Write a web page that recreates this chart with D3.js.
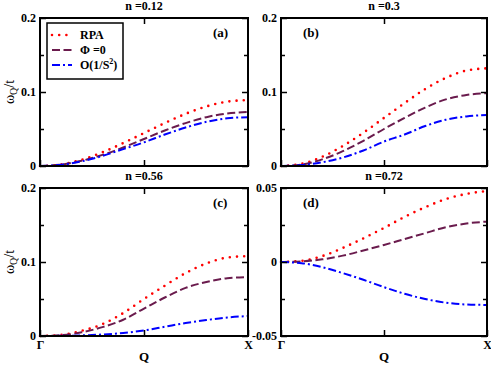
<!DOCTYPE html>
<html>
<head>
<meta charset="utf-8">
<script src="https://cdn.jsdelivr.net/npm/d3@7"></script>
<style>
  body { margin: 0; background: #fff; }
  svg { display: block; font-family: "Liberation Serif", "DejaVu Serif", serif; }
  .tick text { font-weight: bold; font-size: 12px; font-family: "Liberation Serif", "DejaVu Serif", serif; }
</style>
</head>
<body>
<svg id="chart" width="491" height="365"></svg>
<script>
// Q goes from Gamma (0) to X (1)
const qPoints = [0, 0.1, 0.2, 0.3, 0.4, 0.5, 0.6, 0.7, 0.8, 0.9, 1.0];

const panelTitles = ["n =0.12", "n =0.3", "n =0.56", "n =0.72"];
const panelTags = ["(a)", "(b)", "(c)", "(d)"];
const seriesNames = ["RPA", "\u03A6 =0", "O(1/S2)"];

// (a) n = 0.12
const rpaA = [0, 0.002, 0.0085, 0.0185, 0.031, 0.0445, 0.058, 0.0705, 0.0805, 0.087, 0.089];
const phiA = [0, 0.0018, 0.007, 0.015, 0.025, 0.0365, 0.048, 0.058, 0.066, 0.071, 0.073];
const ordA = [0, 0.0016, 0.0063, 0.0136, 0.0228, 0.032, 0.0425, 0.052, 0.0597, 0.0644, 0.066];
// (b) n = 0.3
const rpaB = [0, 0.003, 0.0125, 0.027, 0.045, 0.065, 0.085, 0.104, 0.119, 0.129, 0.132];
const phiB = [0, 0.002, 0.009, 0.02, 0.034, 0.05, 0.065, 0.079, 0.09, 0.096, 0.0985];
const ordB = [0, 0.0012, 0.005, 0.0115, 0.021, 0.033, 0.0425, 0.054, 0.0625, 0.067, 0.069];
// (c) n = 0.56
const rpaC = [0, 0.0015, 0.007, 0.016, 0.031, 0.05, 0.068, 0.085, 0.098, 0.106, 0.108];
const phiC = [0, 0.001, 0.005, 0.012, 0.022, 0.037, 0.052, 0.065, 0.073, 0.078, 0.0795];
const ordC = [0, 0.0002, 0.0008, 0.002, 0.004, 0.0075, 0.0125, 0.0175, 0.0215, 0.025, 0.027];
// (d) n = 0.72
const rpaD = [0, 0.0008, 0.004, 0.0095, 0.016, 0.023, 0.0305, 0.037, 0.0425, 0.046, 0.048];
const phiD = [0, 0.0004, 0.0018, 0.0043, 0.0078, 0.0115, 0.0155, 0.0195, 0.0235, 0.026, 0.0273];
const ordD = [0, -0.0008, -0.0035, -0.0075, -0.012, -0.017, -0.0215, -0.025, -0.0275, -0.0287, -0.029];

const yDomains = [[0, 0.2], [0, 0.2], [0, 0.2], [-0.05, 0.05]];
const yMajor = [[0, 0.1, 0.2], [0, 0.1, 0.2], [0, 0.1, 0.2], [-0.05, 0, 0.05]];
const yMinor = [[0.05, 0.15], [0.05, 0.15], [0.05, 0.15], [-0.025, 0.025]];
const yLabels = [["0", "0.1", "0.2"], ["0", "0.1", "0.2"], ["0", "0.1", "0.2"], ["-0.05", "0", "0.05"]];
const xTickLabels = ["\u0393", "", "X"];

const panelSeries = [[rpaA, phiA, ordA], [rpaB, phiB, ordB], [rpaC, phiC, ordC], [rpaD, phiD, ordD]];

const styles = [
  { color: "#ff0000", dash: "0 7.2", cap: "round", width: 2.6 },
  { color: "#6a1b4d", dash: "8 3.5", cap: "butt", width: 2 },
  { color: "#0000ff", dash: "8 3 2 3", cap: "butt", width: 2 }
];

const svg = d3.select("#chart");

const boxes = [
  { x: 40, y: 18, w: 208, h: 148 },
  { x: 281, y: 18, w: 206, h: 148 },
  { x: 40, y: 188, w: 208, h: 148 },
  { x: 281, y: 188, w: 206, h: 148 }
];

boxes.forEach((b, i) => {
  const g = svg.append("g").attr("transform", `translate(${b.x},${b.y})`);
  const x = d3.scaleLinear().domain([0, 1]).range([0, b.w]);
  const y = d3.scaleLinear().domain(yDomains[i]).range([b.h, 0]);

  // curves
  const line = d3.line()
    .x((d, k) => x(qPoints[k]))
    .y(d => y(d))
    .curve(d3.curveMonotoneX);
  panelSeries[i].forEach((vals, s) => {
    g.append("path")
      .datum(vals)
      .attr("d", line)
      .style("fill", "none")
      .style("stroke", styles[s].color)
      .style("stroke-width", styles[s].width)
      .style("stroke-dasharray", styles[s].dash)
      .style("stroke-linecap", styles[s].cap);
  });

  // axes, ticks pointing inward
  const bottomRow = i >= 2;
  g.append("g")
    .call(d3.axisLeft(y).tickValues(yMajor[i]).tickSizeInner(-6).tickSizeOuter(0).tickPadding(4)
      .tickFormat((d, k) => yLabels[i][k]));
  g.append("g")
    .call(d3.axisLeft(y).tickValues(yMinor[i]).tickSizeInner(-4).tickSizeOuter(0).tickFormat(""));
  g.append("g").attr("transform", `translate(${b.w},0)`)
    .call(d3.axisRight(y).tickValues(yMajor[i]).tickSizeInner(-6).tickSizeOuter(0).tickFormat(""));
  g.append("g").attr("transform", `translate(${b.w},0)`)
    .call(d3.axisRight(y).tickValues(yMinor[i]).tickSizeInner(-4).tickSizeOuter(0).tickFormat(""));
  g.append("g")
    .call(d3.axisTop(x).tickValues([0.5]).tickSizeInner(-6).tickSizeOuter(0).tickFormat(""));
  g.append("g").attr("transform", `translate(0,${b.h})`)
    .call(d3.axisBottom(x).tickValues([0, 0.5, 1]).tickSizeInner(-6).tickSizeOuter(0).tickPadding(4)
      .tickFormat((d, k) => bottomRow ? xTickLabels[k] : ""));
  g.selectAll(".domain").remove();
  g.selectAll(".tick line").style("stroke", "#000").style("stroke-width", 1.5);
  g.selectAll(".tick text").style("fill", "#000");

  // frame
  g.append("rect")
    .attr("width", b.w).attr("height", b.h)
    .style("fill", "none").style("stroke", "#000").style("stroke-width", 2);

  // title
  svg.append("text")
    .attr("x", b.x + b.w / 2).attr("y", b.y - 8)
    .attr("text-anchor", "middle")
    .style("font-weight", "bold").style("font-size", "12px")
    .text(panelTitles[i]);

  // panel tag
  const tagX = (i % 2 === 0) ? b.w - 35 : 22;
  g.append("text")
    .attr("x", tagX).attr("y", 19)
    .style("font-weight", "bold").style("font-size", "13px")
    .text(panelTags[i]);

  // y label on left column
  if (i % 2 === 0) {
    const yl = svg.append("text")
      .attr("transform", `translate(14,${b.y + b.h / 2}) rotate(-90)`)
      .attr("text-anchor", "middle")
      .style("font-size", "14px");
    yl.append("tspan").text("\u03C9");
    yl.append("tspan").attr("dy", 3).style("font-size", "10px").text("Q");
    yl.append("tspan").attr("dy", -3).text("/t");
  }

  if (bottomRow) {
    svg.append("text")
      .attr("x", b.x + b.w / 2).attr("y", 361)
      .attr("text-anchor", "middle")
      .style("font-weight", "bold").style("font-size", "13px")
      .text("Q");
  }
});

// legend in panel (a)
const lg = svg.append("g").attr("transform", "translate(47,23)");
lg.append("rect")
  .attr("width", 76).attr("height", 56)
  .style("fill", "#fff").style("stroke", "#000").style("stroke-width", 1.5);
seriesNames.forEach((name, s) => {
  const ly = 12 + s * 15;
  lg.append("line")
    .attr("x1", 5).attr("x2", 25).attr("y1", ly).attr("y2", ly)
    .style("stroke", styles[s].color)
    .style("stroke-width", styles[s].width)
    .style("stroke-dasharray", styles[s].dash)
    .style("stroke-linecap", styles[s].cap);
  const t = lg.append("text")
    .attr("x", 33).attr("y", ly + 4)
    .style("font-weight", "bold").style("font-size", "12px");
  if (name === "O(1/S2)") {
    t.append("tspan").text("O(1/S");
    t.append("tspan").attr("dy", -5).style("font-size", "8px").text("2");
    t.append("tspan").attr("dy", 5).text(")");
  } else {
    t.text(name);
  }
});
</script>
</body>
</html>
